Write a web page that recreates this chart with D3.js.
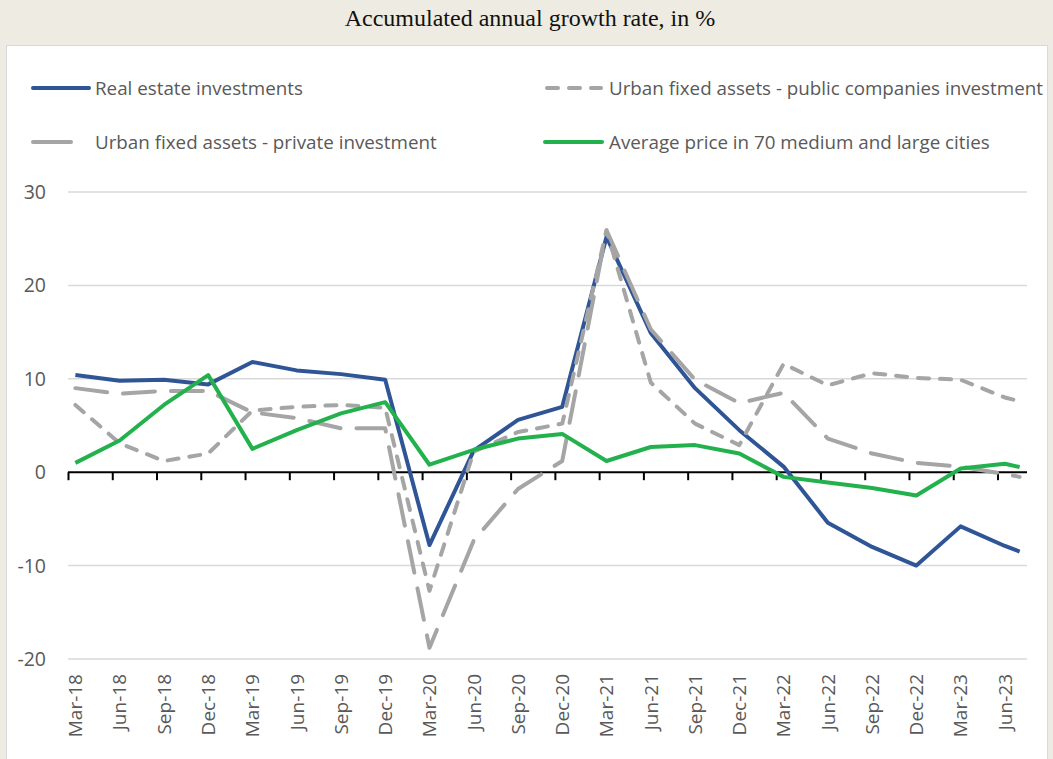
<!DOCTYPE html>
<html>
<head>
<meta charset="utf-8">
<script src="https://cdn.jsdelivr.net/npm/d3@7"></script>
<style>
  body { margin: 0; background: #EEECE2; }
  #chart { width: 1053px; height: 759px; overflow: hidden; }
</style>
</head>
<body>
<div id="chart"></div>
<script>
// data periods (year-month), last one is Jul-23
var periods = ["2018-03","2018-06","2018-09","2018-12","2019-03","2019-06","2019-09","2019-12",
               "2020-03","2020-06","2020-09","2020-12","2021-03","2021-06","2021-09","2021-12",
               "2022-03","2022-06","2022-09","2022-12","2023-03","2023-06","2023-07"];

var tickLabels = ["Mar-18","Jun-18","Sep-18","Dec-18","Mar-19","Jun-19","Sep-19","Dec-19",
                  "Mar-20","Jun-20","Sep-20","Dec-20","Mar-21","Jun-21","Sep-21","Dec-21",
                  "Mar-22","Jun-22","Sep-22","Dec-22","Mar-23","Jun-23"];

var realEstate = [10.4, 9.8, 9.9, 9.4, 11.8, 10.9, 10.5, 9.9, -7.8, 2.3, 5.6, 7.0,
                  25.2, 14.9, 9.0, 4.5, 0.6, -5.4, -8.0, -10.0, -5.8, -7.9, -8.5];
var publicInv = [7.2, 3.1, 1.2, 2.0, 6.6, 7.0, 7.2, 6.9, -12.7, 2.2, 4.3, 5.2,
                 25.9, 9.6, 5.2, 2.9, 11.6, 9.3, 10.6, 10.1, 9.9, 8.0, 7.6];
var privateInv = [9.0, 8.4, 8.7, 8.7, 6.4, 5.8, 4.7, 4.7, -18.8, -7.3, -1.8, 1.2,
                  25.9, 15.3, 9.9, 7.4, 8.5, 3.6, 2.0, 1.0, 0.6, -0.2, -0.5];
var avgPrice = [1.0, 3.4, 7.2, 10.4, 2.5, 4.5, 6.3, 7.5, 0.8, 2.4, 3.6, 4.1,
                1.2, 2.7, 2.9, 2.0, -0.5, -1.1, -1.7, -2.5, 0.4, 0.9, 0.55];

var yTicks = [-20, -10, 0, 10, 20, 30];

var series = [
    {name: "Real estate investments", values: realEstate, color: "#2F5597", dash: null},
    {name: "Urban fixed assets - public companies investment", values: publicInv, color: "#A5A5A5", dash: "11,11"},
    {name: "Urban fixed assets - private investment", values: privateInv, color: "#A5A5A5", dash: "32,16"},
    {name: "Average price in 70 medium and large cities", values: avgPrice, color: "#22B14C", dash: null}
];

function monthIndex(p){
    var parts = p.split("-");
    return (parseInt(parts[0]) - 2018) * 12 + (parseInt(parts[1]) - 3);
}

var W = 1053, H = 759;
var plotLeft = 68, plotRight = 1027, plotTop = 192, plotBottom = 659;

var svg = d3.select("#chart").append("svg")
    .attr("width", W)
    .attr("height", H);

svg.append("rect")
    .attr("width", W).attr("height", H)
    .attr("fill", "#EEECE2");

svg.append("text")
    .attr("x", 530)
    .attr("y", 26)
    .attr("text-anchor", "middle")
    .style("font-family", "'Liberation Serif', 'Times New Roman', serif")
    .style("font-size", "24px")
    .attr("fill", "#111")
    .text("Accumulated annual growth rate, in %");

// white chart panel
svg.append("rect")
    .attr("x", 6.5).attr("y", 45.5)
    .attr("width", 1041).attr("height", 730)
    .attr("fill", "#fff")
    .attr("stroke", "#D9D9D9")
    .attr("stroke-width", 1);

// month based x scale, each point sits in the middle of its month
var x = d3.scaleLinear().domain([0, 65]).range([plotLeft, plotRight]);
var y = d3.scaleLinear().domain([-20, 30]).range([plotBottom, plotTop]);

var fontSans = "'Open Sans', 'DejaVu Sans', sans-serif";

// gridlines
svg.append("g").selectAll("line")
    .data(yTicks.filter(function(d){ return d != 0; }))
    .enter().append("line")
    .attr("x1", plotLeft).attr("x2", plotRight)
    .attr("y1", function(d){ return y(d); })
    .attr("y2", function(d){ return y(d); })
    .attr("stroke", "#D9D9D9")
    .attr("stroke-width", 1.5);

// y labels
svg.append("g").selectAll("text")
    .data(yTicks)
    .enter().append("text")
    .attr("x", 46)
    .attr("y", function(d){ return y(d); })
    .attr("dy", "0.36em")
    .attr("text-anchor", "end")
    .style("font-family", fontSans)
    .style("font-size", "19.5px")
    .attr("fill", "#595959")
    .text(function(d){ return d; });

// zero axis with ticks at quarter starts
var xAxis = d3.axisBottom(x)
    .tickValues(d3.range(0, 64, 3))
    .tickSize(8)
    .tickFormat("");

var axisG = svg.append("g")
    .attr("transform", "translate(0," + y(0) + ")")
    .call(xAxis);
axisG.select(".domain").attr("stroke", "#000").attr("stroke-width", 2)
    .attr("d", "M" + plotLeft + ",0H" + plotRight);
axisG.selectAll(".tick line").attr("stroke", "#000").attr("stroke-width", 2);

// rotated category labels
svg.append("g").selectAll("text")
    .data(tickLabels)
    .enter().append("text")
    .attr("transform", function(d, i){
        return "translate(" + x(i * 3 + 0.5) + ",674) rotate(-90)";
    })
    .attr("dy", "0.36em")
    .attr("text-anchor", "end")
    .style("font-family", fontSans)
    .style("font-size", "19px")
    .attr("fill", "#595959")
    .text(function(d){ return d; });

var line = d3.line()
    .x(function(d, i){ return x(monthIndex(periods[i]) + 0.5); })
    .y(function(d){ return y(d); });

series.forEach(function(s){
    svg.append("path")
        .datum(s.values)
        .attr("d", line)
        .attr("fill", "none")
        .attr("stroke", s.color)
        .attr("stroke-width", 4)
        .attr("stroke-linejoin", "round")
        .attr("stroke-linecap", s.dash ? "round" : "butt")
        .attr("stroke-dasharray", s.dash);
});

// legend, two rows by two columns
var legendPos = [
    {x1: 33, x2: 89, tx: 95, y: 88},
    {x1: 547, x2: 601, tx: 609, y: 88},
    {x1: 33, x2: 71, tx: 95, y: 142},
    {x1: 545, x2: 602, tx: 609, y: 142}
];

series.forEach(function(s, i){
    var p = legendPos[i];
    svg.append("line")
        .attr("x1", p.x1).attr("x2", p.x2)
        .attr("y1", p.y).attr("y2", p.y)
        .attr("stroke", s.color)
        .attr("stroke-width", 4)
        .attr("stroke-linecap", "round")
        .attr("stroke-dasharray", i == 2 ? null : s.dash);
    svg.append("text")
        .attr("x", p.tx)
        .attr("y", p.y)
        .attr("dy", "0.36em")
        .style("font-family", fontSans)
        .style("font-size", "18.8px")
        .attr("fill", "#595959")
        .text(s.name);
});
</script>
</body>
</html>
